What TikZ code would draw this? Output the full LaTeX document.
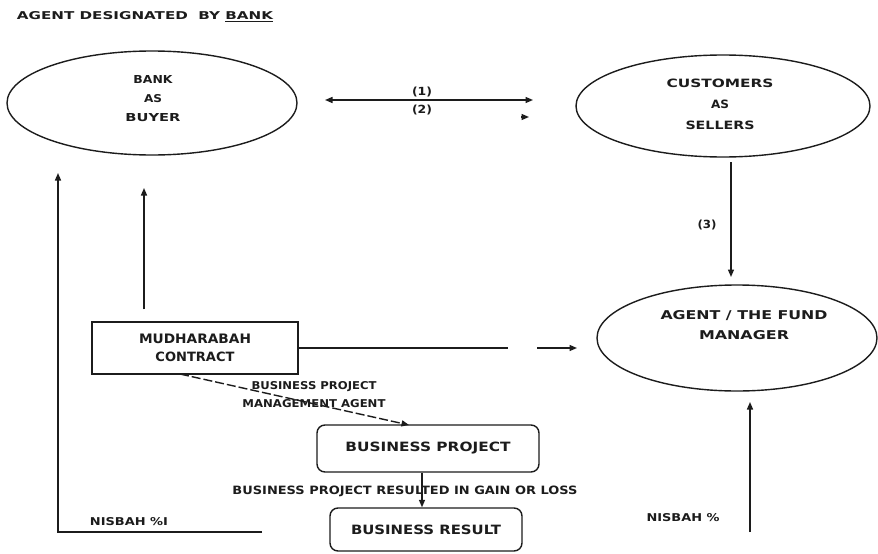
\documentclass[tikz,border=0pt]{standalone}
\usepackage{fontspec}
\setmainfont{DejaVu Sans}
\usepackage{graphicx}
\usetikzlibrary{arrows.meta,shapes.geometric}
\definecolor{ink}{HTML}{1C1C1C}
% set a line of capitals to a given width and cap height (in pt)
\newcommand{\fitto}[3]{\resizebox{#1pt}{#2pt}{#3}}
\tikzset{
  oval/.style={draw=ink, line width=1.4pt, ellipse, inner sep=0pt},
  boxed/.style={draw=ink, line width=1.4pt, rectangle, inner sep=0pt, text=ink, align=center},
  rbox/.style={boxed, rounded corners=8pt},
  txt/.style={inner sep=0pt, text=ink, align=center},
  conn/.style={draw=ink, line width=1.4pt},
  arr/.style={conn, -{Triangle[length=7.5pt,width=6pt]}},
  darr/.style={conn, {Triangle[length=7.5pt,width=6pt]}-{Triangle[length=7.5pt,width=6pt]}},
}
\begin{document}
\begin{tikzpicture}[x=1pt,y=-1pt,font=\bfseries]
\fill[white] (0,0) rectangle (878,554);
\useasboundingbox (0,0) rectangle (878,554);

% heading
\node[txt] (title) at (145,17) {\fitto{256}{8}{AGENT DESIGNATED\ \ BY \underline{BANK}}};

% the three parties
\node[oval, minimum width=290pt, minimum height=104pt] (bank) at (152,103) {};
\node[txt, font=\bfseries\fontsize{10}{19}\selectfont] (bankt) at (153,99)
  {\fitto{39}{8}{BANK}\\\fitto{18}{8}{AS}\\\fitto{55}{8}{BUYER}};

\node[oval, minimum width=294pt, minimum height=102pt] (cust) at (723,106) {};
\node[txt, font=\bfseries\fontsize{10}{21}\selectfont] (custt) at (720,104)
  {\fitto{107}{8.5}{CUSTOMERS}\\\fitto{18}{8.5}{AS}\\\fitto{69}{8.5}{SELLERS}};

\node[oval, minimum width=280pt, minimum height=106pt] (agent) at (737,338) {};
\node[txt, font=\bfseries\fontsize{10}{20}\selectfont] (agentt) at (744,325)
  {\fitto{167}{9}{AGENT / THE FUND}\\\fitto{90}{9}{MANAGER}};

% contract and project boxes
\node[boxed, minimum width=206pt, minimum height=52pt, font=\bfseries\fontsize{10}{18}\selectfont] (mudh) at (195,348)
  {\fitto{112}{9.5}{MUDHARABAH}\\\fitto{79}{9.5}{CONTRACT}};
\node[rbox, minimum width=222pt, minimum height=47pt] (proj) at (428,448.5)
  {\fitto{165}{9.5}{BUSINESS PROJECT}};
\node[rbox, minimum width=192pt, minimum height=43pt] (res) at (426,529.5)
  {\fitto{150}{9.5}{BUSINESS RESULT}};

% free ends of the connectors
\coordinate (buyL) at (325,100);
\coordinate (buyR) at (533,100);
\coordinate (sellA) at (521,117);
\coordinate (sellB) at (529,117);
\coordinate (toBank) at (144,188);
\coordinate (loopEnd) at (262,532);
\coordinate (loopCorner) at (58,532);
\coordinate (loopTop) at (58,173);
\coordinate (fadeEnd) at (508,348);
\coordinate (resume) at (537,348);
\coordinate (toAgent) at (577,348);
\coordinate (custOut) at (731,162);
\coordinate (agentIn) at (731,277);
\coordinate (nisbahFoot) at (750,532);
\coordinate (agentUnder) at (750,402);
\coordinate (mudhOut) at (180,374);
\coordinate (projIn) at (409,425);

% sale between bank and customers
\draw[darr] (buyL) -- (buyR);
\draw[arr] (sellA) -- (sellB);
\node[txt] (lab1) at (422,92) {\fitto{20}{8.5}{(1)}};
\node[txt] (lab2) at (422,110) {\fitto{20}{8.5}{(2)}};

% customers appoint the agent
\draw[arr] (custOut) -- (agentIn);
\node[txt] (lab3) at (707,225) {\fitto{19}{8.5}{(3)}};

% contract to bank and to agent
\draw[arr] (mudh.north -| toBank) ++(0,-12) -- (toBank);
\draw[conn] (mudh.east |- fadeEnd) -- (fadeEnd);
\draw[arr] (resume) -- (toAgent);

% contract to business project
\draw[arr, dash pattern=on 9pt off 3pt] (mudhOut) -- (projIn);
\node[txt, font=\bfseries\fontsize{10}{18}\selectfont] (labbp) at (314,395)
  {\fitto{125}{8}{BUSINESS PROJECT}\\\fitto{143}{8}{MANAGEMENT AGENT}};

% project outcome
\draw[arr] (proj.south -| 422,0) -- (res.north -| 422,0);
\node[txt] (labres) at (405,491) {\fitto{345}{8.5}{BUSINESS PROJECT RESULTED IN GAIN OR LOSS}};

% profit shares
\draw[arr] (loopEnd) -- (loopCorner) -- (loopTop);
\node[txt] (nisL) at (129,522) {\fitto{78}{8}{NISBAH \%I}};
\draw[arr] (nisbahFoot) -- (agentUnder);
\node[txt] (nisR) at (683,518) {\fitto{73}{8}{NISBAH \%}};
\end{tikzpicture}
\end{document}
